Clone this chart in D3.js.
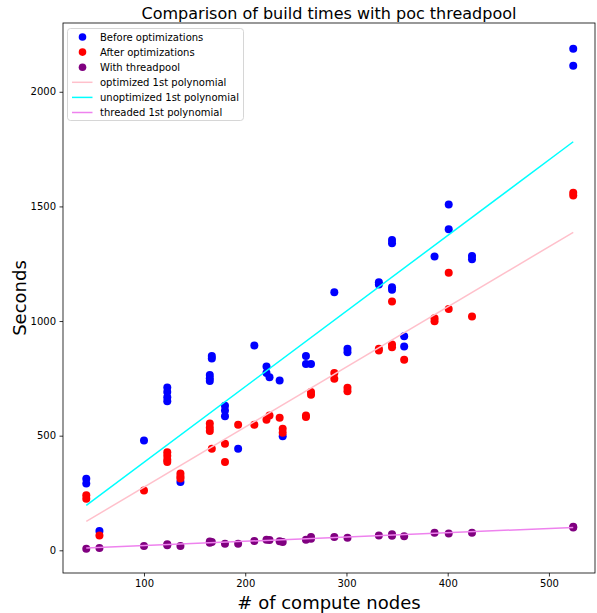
<!DOCTYPE html>
<html><head><meta charset="utf-8">
<script src="https://cdn.jsdelivr.net/npm/d3@7"></script>
<style>body{margin:0;background:#fff}svg{display:block}text{font-family:"DejaVu Sans",sans-serif}</style>
</head><body><svg id="c" width="597" height="613"></svg>
<script>
const beforeNodes = [43,43,56,100,123,123,123,123,136,165,165,165,167,167,180,180,180,193,209,221,221,224,234,237,260,260,265,288,301,301,332,332,345,345,345,345,357,357,387,401,401,424,424,524,524];
const beforeSecs  = [312,291,84,479,710,690,668,650,298,765,750,738,848,837,630,610,585,443,893,802,773,755,741,497,847,813,813,1126,879,864,1169,1159,1354,1339,1147,1136,934,889,1282,1508,1400,1284,1269,2188,2114];
const afterNodes = [43,43,56,100,123,123,123,123,136,136,136,165,165,165,167,180,180,193,209,221,224,234,237,237,260,260,265,265,288,288,301,301,332,332,345,345,345,357,387,387,401,401,424,524,524];
const afterSecs  = [240,225,65,261,428,412,395,385,335,322,313,553,535,520,443,465,385,548,548,569,588,578,530,513,588,581,690,678,773,748,709,694,879,871,1085,898,886,831,1012,999,1211,1053,1020,1560,1548];
const threadNodes = [43,56,100,123,123,136,165,165,167,180,193,209,221,224,234,237,260,265,265,288,301,332,345,345,357,387,401,424,524,524];
const threadSecs  = [7,10,19,26,22,19,38,33,36,29,29,41,46,45,40,36,46,58,50,58,55,65,70,64,61,77,73,77,103,99];
// fitted 1st-order polynomial lines, endpoints: [nodes, seconds]
const optimizedFit   = [[43,126],[524,1387]];
const unoptimizedFit = [[43,196],[524,1782]];
const threadedFit    = [[43,10],[524,100]];
const xTicks = [100,200,300,400,500];
const yTicks = [0,500,1000,1500,2000];
const titleText = "Comparison of build times with poc threadpool";
const legendLabels = ["Before optimizations","After optimizations","With threadpool","optimized 1st polynomial","unoptimized 1st polynomial","threaded 1st polynomial"];

const svg = d3.select("#c");
const L=63,R=595,T=23,B=573;
const x = d3.scaleLinear().domain([20,545.5]).range([L,R]);
const y = d3.scaleLinear().domain([-99,2300]).range([B,T]);

// axes
const gx = svg.append("g").attr("transform",`translate(0,${B})`)
  .call(d3.axisBottom(x).tickValues(xTicks).tickSize(3.5).tickPadding(3.5).tickFormat(d3.format("d")));
const gy = svg.append("g").attr("transform",`translate(${L},0)`)
  .call(d3.axisLeft(y).tickValues(yTicks).tickSize(3.5).tickPadding(3.5).tickFormat(d3.format("d")));
[gx,gy].forEach(g=>{g.select(".domain").remove(); g.selectAll("text").attr("font-size",10).attr("fill","#000").attr("font-family","DejaVu Sans");
  g.selectAll("line").attr("stroke","#000").attr("stroke-width",0.8);});

const plot = svg.append("g");
function scatter(xs, ys, color){
  plot.append("g").selectAll("circle").data(xs.map((v,i)=>[v,ys[i]])).join("circle")
    .attr("cx",d=>x(d[0])).attr("cy",d=>y(d[1])).attr("r",4).attr("fill",color);
}
scatter(beforeNodes,beforeSecs,"blue");
scatter(afterNodes,afterSecs,"red");
scatter(threadNodes,threadSecs,"purple");

const lineGen = d3.line().x(d=>x(d[0])).y(d=>y(d[1]));
function fitLine(pts, color){
  plot.append("path").attr("d",lineGen(pts)).attr("fill","none").attr("stroke",color).attr("stroke-width",1.5);
}
fitLine(optimizedFit,"pink");
fitLine(unoptimizedFit,"cyan");
fitLine(threadedFit,"violet");

// frame
svg.append("rect").attr("x",L).attr("y",T).attr("width",R-L).attr("height",B-T)
  .attr("fill","none").attr("stroke","#000").attr("stroke-width",0.8);

// legend
const lg = svg.append("g");
lg.append("rect").attr("x",67.5).attr("y",28.5).attr("width",176).attr("height",92).attr("rx",3)
  .attr("fill","#fff").attr("fill-opacity",0.8).attr("stroke","#ccc").attr("stroke-width",0.8);
const colors=["blue","red","purple","pink","cyan","violet"];
legendLabels.forEach((t,i)=>{
  const cy=37+i*15.1;
  if(i<3) lg.append("circle").attr("cx",82.5).attr("cy",cy).attr("r",3.8).attr("fill",colors[i]);
  else lg.append("line").attr("x1",72).attr("x2",92.5).attr("y1",cy).attr("y2",cy).attr("stroke",colors[i]).attr("stroke-width",1.5);
  lg.append("text").attr("x",100).attr("y",cy).attr("dy","0.35em").attr("font-size",10).text(t);
});

// titles
svg.append("text").attr("x",(L+R)/2).attr("y",19).attr("text-anchor","middle").attr("font-size",16).text(titleText);
svg.append("text").attr("x",(L+R)/2).attr("y",609).attr("text-anchor","middle").attr("font-size",18).text("# of compute nodes");
svg.append("text").attr("transform",`translate(26,${(T+B)/2}) rotate(-90)`).attr("text-anchor","middle").attr("font-size",18).text("Seconds");
</script></body></html>
